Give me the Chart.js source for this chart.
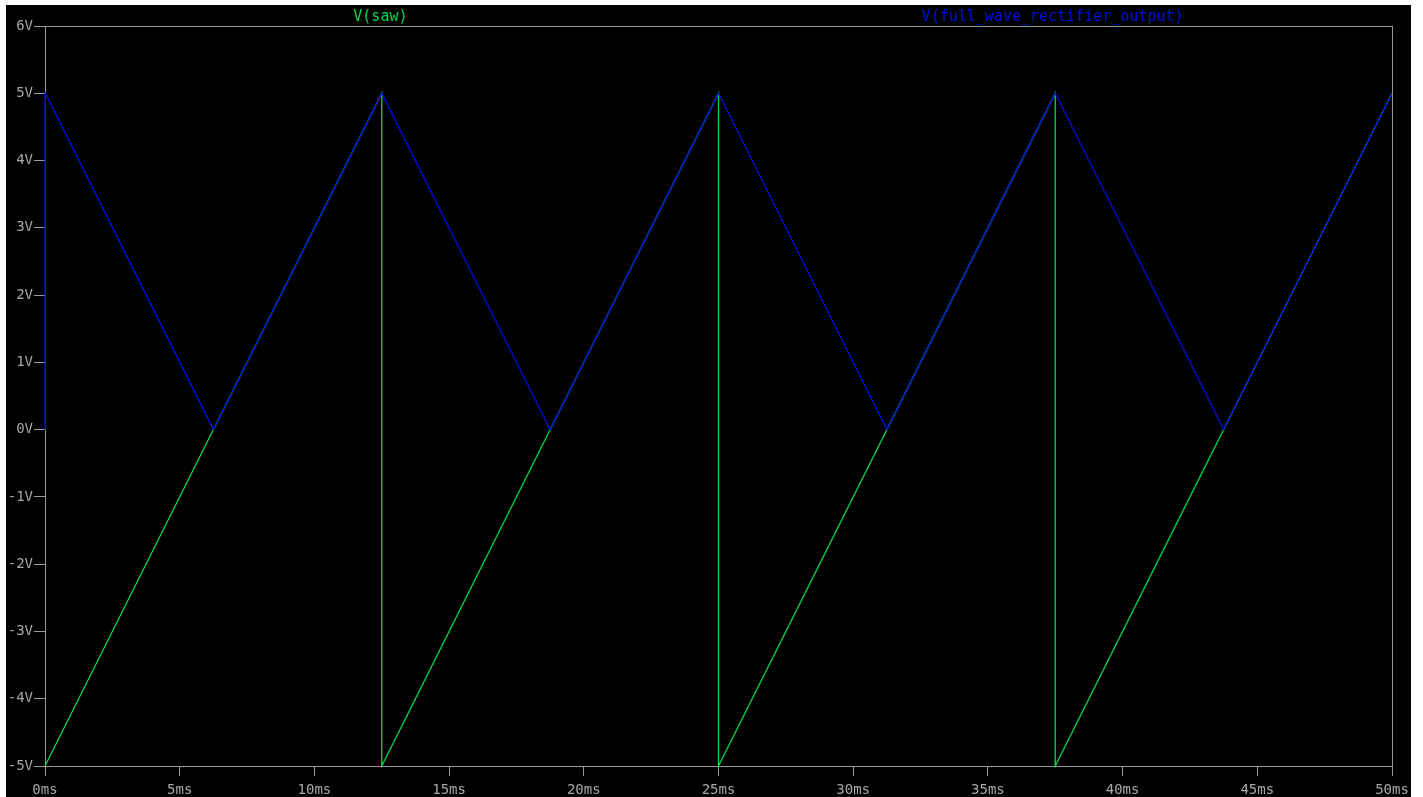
<!DOCTYPE html>
<html>
<head>
<meta charset="utf-8">
<script src="https://cdn.jsdelivr.net/npm/chart.js@4/dist/chart.umd.min.js"></script>
<style>
html,body{margin:0;padding:0;background:#fff;}
#box{position:absolute;left:6px;top:5px;width:1405px;height:792px;background:#000;}
#c{display:block;}
</style>
</head>
<body>
<div id="box"><canvas id="c" width="1405" height="792"></canvas></div>
<script>
// datos (tiempo en ms, tension en V)
const SAW_T=[0,12.5,12.5,25,25,37.5,37.5,50];
const SAW_V=[-5,5,-5,5,-5,5,-5,5];
const REC_T=[0,0,0.02,6.25,12.5,18.75,25,31.25,37.5,43.75,50];
const REC_V=[0,4.7,5,0,5,0,5,0,5,0,5];
const X_TICKS=[0,5,10,15,20,25,30,35,40,45,50];
const Y_TICKS=[-5,-4,-3,-2,-1,0,1,2,3,4,5,6];
const LBL_SAW='V(saw)', LBL_REC='V(full_wave_rectifier_output)';

const COL_SAW='#00d848', COL_REC='#0010e0', COL_AX='#9a9a9a', COL_TXT='#a8a8a8';
const FONT='"DejaVu Sans Mono", monospace';

const pts=(t,v)=>t.map((x,i)=>({x,y:v[i]}));

// caja del grafico (debajo de las curvas) y leyendas arriba
const frame={id:'frame',
  beforeDatasetsDraw(ch){
    const {ctx,chartArea:a}=ch;
    ctx.save();
    ctx.strokeStyle=COL_AX;ctx.lineWidth=1;
    ctx.strokeRect(a.left+0.5,a.top+0.5,a.right-a.left,a.bottom-a.top);
    ctx.font='15px '+FONT;ctx.textAlign='center';ctx.textBaseline='middle';
    const w=a.right-a.left;
    ctx.fillStyle=COL_SAW;ctx.fillText(LBL_SAW,a.left+w*0.249,12);
    ctx.fillStyle=COL_REC;ctx.fillText(LBL_REC,a.left+w*0.748,12);
    ctx.restore();
  }
};

const CLIP={left:3,top:3,right:3,bottom:3};
new Chart(document.getElementById('c'),{type:'line',
  data:{datasets:[
    {label:LBL_REC,data:pts(REC_T,REC_V),borderColor:COL_REC,borderWidth:1.3,pointRadius:0,tension:0,order:0,clip:CLIP},
    {label:LBL_SAW,data:pts(SAW_T,SAW_V),borderColor:COL_SAW,borderWidth:1.3,pointRadius:0,tension:0,order:1,clip:CLIP}
  ]},
  options:{responsive:false,animation:false,
    layout:{padding:{top:21,right:19,left:0,bottom:0}},
    plugins:{legend:{display:false},tooltip:{enabled:false}},
    scales:{
      x:{type:'linear',min:0,max:50,
        afterBuildTicks:s=>{s.ticks=X_TICKS.map(v=>({value:v}))},
        afterFit:s=>{s.height=31;s.paddingLeft=0;s.paddingRight=0},
        ticks:{callback:v=>v+'ms',color:COL_TXT,font:{family:FONT,size:14},padding:6,maxRotation:0,autoSkip:false},
        grid:{drawOnChartArea:false,tickLength:10,color:COL_AX,tickColor:COL_AX},
        border:{color:COL_AX}},
      y:{type:'linear',min:-5,max:6,
        afterBuildTicks:s=>{s.ticks=Y_TICKS.map(v=>({value:v}))},
        afterFit:s=>{s.width=39;s.paddingTop=0;s.paddingBottom=0},
        ticks:{callback:v=>v+'V',color:COL_TXT,font:{family:FONT,size:14},padding:1,autoSkip:false},
        grid:{drawOnChartArea:false,tickLength:11,color:COL_AX,tickColor:COL_AX},
        border:{color:COL_AX}}
    }
  },
  plugins:[frame]
});
</script>
</body>
</html>
